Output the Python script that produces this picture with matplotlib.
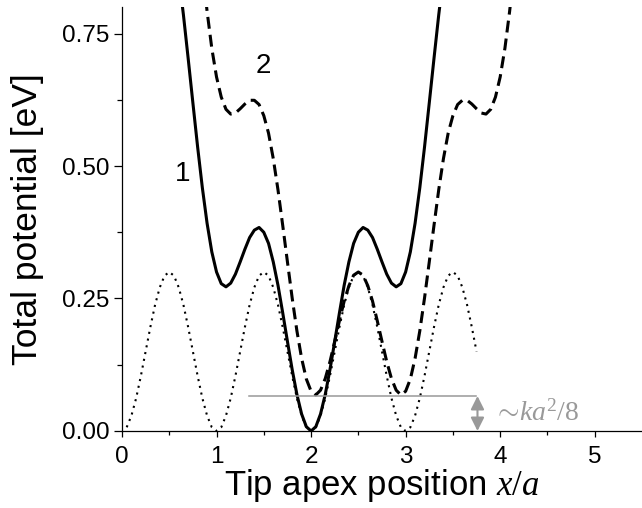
import numpy as np
import matplotlib
matplotlib.use("Agg")
import matplotlib.pyplot as plt

plt.rcParams['font.family'] = ['Liberation Sans', 'DejaVu Sans']
plt.rcParams['mathtext.fontset'] = 'custom'
plt.rcParams['mathtext.rm'] = 'Liberation Serif'
plt.rcParams['mathtext.it'] = 'Liberation Serif:italic'

# curve 1: tip centred at x = 2a (solid)
x_solid = np.round(np.arange(0.55, 3.451, 0.05), 2)
v_solid = [0.924, 0.859, 0.785, 0.703, 0.619, 0.536, 0.459, 0.392, 0.338, 0.300,
           0.278, 0.272, 0.279, 0.296, 0.319, 0.343, 0.365, 0.379, 0.384, 0.375,
           0.354, 0.319, 0.275, 0.223, 0.169, 0.116, 0.069, 0.032, 0.008,
           0.000,
           0.008, 0.032, 0.069, 0.116, 0.169, 0.223, 0.275, 0.319, 0.354, 0.375,
           0.384, 0.379, 0.365, 0.343, 0.319, 0.296, 0.279, 0.272, 0.278, 0.300,
           0.338, 0.392, 0.459, 0.536, 0.619, 0.703, 0.785, 0.859, 0.924]

# curve 2: tip centred at x = 2.5a (dashed)
x_dash = np.round(np.arange(0.85, 4.151, 0.05), 2)
v_dash = [0.875, 0.792, 0.722, 0.668, 0.630, 0.607, 0.598, 0.600, 0.608, 0.617,
          0.624, 0.624, 0.616, 0.595, 0.562, 0.514, 0.455, 0.388, 0.319, 0.251,
          0.189, 0.137, 0.098, 0.075, 0.068, 0.077, 0.099, 0.131, 0.169, 0.208,
          0.245, 0.274, 0.294,
          0.300,
          0.294, 0.274, 0.245, 0.208, 0.169, 0.131, 0.099, 0.077, 0.068, 0.075,
          0.098, 0.137, 0.189, 0.251, 0.319, 0.388, 0.455, 0.514, 0.562, 0.595,
          0.616, 0.624, 0.624, 0.617, 0.608, 0.600, 0.598, 0.607, 0.630, 0.668,
          0.722, 0.792, 0.875]

# substrate potential (dotted)
x_sub = np.round(np.arange(0.05, 3.751, 0.05), 2)
v_sub = [0.007, 0.029, 0.062, 0.104, 0.150, 0.196, 0.238, 0.271, 0.293, 0.300,
         0.293, 0.271, 0.238, 0.196, 0.150, 0.104, 0.062, 0.029, 0.007, 0.000,
         0.007, 0.029, 0.062, 0.104, 0.150, 0.196, 0.238, 0.271, 0.293, 0.300,
         0.293, 0.271, 0.238, 0.196, 0.150, 0.104, 0.062, 0.029, 0.007, 0.000,
         0.007, 0.029, 0.062, 0.104, 0.150, 0.196, 0.238, 0.271, 0.293, 0.300,
         0.293, 0.271, 0.238, 0.196, 0.150, 0.104, 0.062, 0.029, 0.007, 0.000,
         0.007, 0.029, 0.062, 0.104, 0.150, 0.196, 0.238, 0.271, 0.293, 0.300,
         0.293, 0.271, 0.238, 0.196, 0.150]

gap_level = 0.066
gap_span = [1.34, 3.74]
arrow_x = 3.76

fig = plt.figure(figsize=(6.42, 5.08), dpi=100)
ax = fig.add_axes([0.19, 0.1516, 0.81, 0.8346])

ax.plot(x_sub, v_sub, color='black', lw=1.5, linestyle=(0, (1, 2.3)))
ax.plot(x_solid, v_solid, color='black', lw=2.2)
ax.plot(x_dash, v_dash, color='black', lw=2.2, linestyle=(0, (3.9, 2.0)))

ax.plot(gap_span, [gap_level, gap_level], color='#999999', lw=1.1)
ax.annotate('', xy=(arrow_x, 0), xytext=(arrow_x, gap_level),
            arrowprops=dict(arrowstyle='<|-|>', color='#999999', lw=1.5,
                            mutation_scale=20, shrinkA=0, shrinkB=0))
ax.text(3.92, 0.034, r'$\sim\!ka^2/8$', color='#999999', fontsize=20,
        va='center', ha='left')

ax.text(0.64, 0.485, '1', fontsize=20, ha='center', va='center')
ax.text(1.50, 0.688, '2', fontsize=20, ha='center', va='center')

ax.set_xlim(0, 5.5)
ax.set_ylim(0, 0.80)
ax.set_xticks([0, 1, 2, 3, 4, 5])
ax.set_xticks(np.arange(0.5, 5.5, 1.0), minor=True)
ax.set_yticks([0.0, 0.25, 0.5, 0.75])
ax.set_yticklabels(['0.00', '0.25', '0.50', '0.75'])
ax.set_yticks([0.125, 0.375, 0.625], minor=True)
ax.spines['top'].set_visible(False)
ax.spines['right'].set_visible(False)
for s in ('left', 'bottom'):
    ax.spines[s].set_linewidth(0.9)
ax.tick_params(axis='y', which='major', direction='out', length=6, width=0.9,
               labelsize=17.5, pad=3)
ax.tick_params(axis='y', which='minor', direction='out', length=3.5, width=0.9)
ax.tick_params(axis='x', which='major', direction='out', length=4, width=0.9,
               labelsize=17.5, pad=7)
ax.tick_params(axis='x', which='minor', direction='out', length=3, width=0.9)

ax.set_xlabel(r'Tip apex position $x/a$', fontsize=25)
ax.set_ylabel('Total potential [eV]', fontsize=25.5)
ax.xaxis.set_label_coords(0.5, -0.085)
ax.yaxis.set_label_coords(-0.15, 0.5)

fig.savefig('out.png', dpi=100)
